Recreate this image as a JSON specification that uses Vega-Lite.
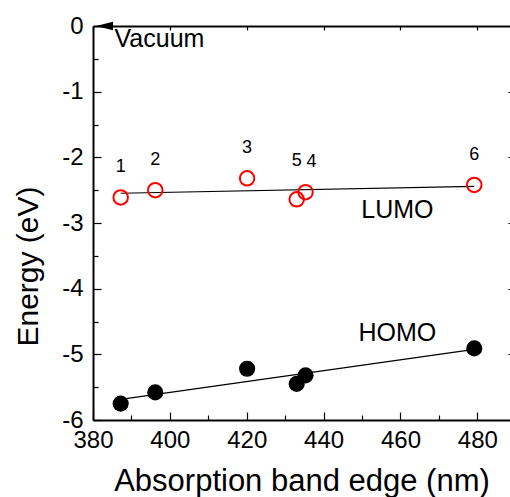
{
  "$schema": "https://vega.github.io/schema/vega-lite/v6.json",
  "autosize": "none",
  "width": 417,
  "height": 394,
  "padding": {"left": 93, "top": 26, "right": 0, "bottom": 77},
  "background": "white",
  "config": {
    "view": {"stroke": null},
    "font": "Liberation Sans",
    "axis": {"grid": false, "domainColor": "black", "tickColor": "black", "labelColor": "black", "titleColor": "black", "labelFont": "Liberation Sans", "titleFont": "Liberation Sans", "titleFontWeight": "normal", "labelFlush": false}
  },
  "datasets": {
    "pts": [
      {"n": "1", "wl": 387.2, "lumo": -2.61, "homo": -5.75},
      {"n": "2", "wl": 396.2, "lumo": -2.50, "homo": -5.58},
      {"n": "3", "wl": 420.1, "lumo": -2.32, "homo": -5.22},
      {"n": "5", "wl": 433.0, "lumo": -2.64, "homo": -5.45},
      {"n": "4", "wl": 435.3, "lumo": -2.53, "homo": -5.32},
      {"n": "6", "wl": 479.2, "lumo": -2.42, "homo": -4.91}
    ],
    "notes": [
      {"text": "Vacuum", "wl": 385.6, "E": -0.315, "align": "left"},
      {"text": "LUMO", "wl": 459.2, "E": -2.93, "align": "center"},
      {"text": "HOMO", "wl": 459.2, "E": -4.79, "align": "center"}
    ],
    "arrow": [{"wl": 383.0, "E": 0}]
  },
  "resolve": {"axis": {"x": "independent", "y": "independent"}},
  "layer": [
    {
      "data": {"name": "pts"},
      "transform": [
        {"fold": ["lumo", "homo"], "as": ["orb", "E"]},
        {"regression": "E", "on": "wl", "groupby": ["orb"]}
      ],
      "mark": {"type": "line", "color": "black", "strokeWidth": 1.2},
      "encoding": {
        "x": {"field": "wl", "type": "quantitative", "scale": {"domain": [380, 488.5], "nice": false, "zero": false},
          "axis": {"orient": "top", "values": [380, 400, 420, 440, 460, 480], "labels": false, "title": null, "tickSize": -4, "tickWidth": 1.2, "domainWidth": 2}},
        "y": {"field": "E", "type": "quantitative", "scale": {"domain": [-6, 0], "nice": false, "zero": false},
          "axis": {"orient": "right", "values": [-6, -5, -4, -3, -2, -1, 0], "labels": false, "title": null, "tickSize": -2, "tickWidth": 1.2, "domain": false}},
        "detail": {"field": "orb"}
      }
    },
    {
      "data": {"name": "pts"},
      "mark": {"type": "point", "shape": "circle", "filled": false, "color": "#ff0000", "strokeWidth": 2, "size": 210, "opacity": 1},
      "encoding": {
        "x": {"field": "wl", "type": "quantitative",
          "axis": {"orient": "bottom", "values": [380, 400, 420, 440, 460, 480], "labelExpr": "'' + datum.value", "title": "Absorption band edge (nm)", "tickSize": -8, "tickWidth": 1.2, "domainWidth": 2, "labelFontSize": 24, "labelPadding": 16, "titleFontSize": 31, "titleBaseline": "alphabetic", "titleY": 70}},
        "y": {"field": "lumo", "type": "quantitative",
          "axis": {"orient": "left", "values": [-6, -5, -4, -3, -2, -1, 0], "labelExpr": "'' + datum.value", "title": "Energy (eV)", "tickSize": -8, "tickWidth": 1.2, "domainWidth": 2, "labelFontSize": 24, "labelPadding": 18, "titleFontSize": 30, "titleBaseline": "alphabetic", "titleX": -56, "titleY": 240, "titleAngle": 270}}
      }
    },
    {
      "data": {"name": "pts"},
      "mark": {"type": "point", "shape": "circle", "filled": true, "color": "black", "size": 260, "opacity": 1},
      "encoding": {
        "x": {"field": "wl", "type": "quantitative",
          "axis": {"orient": "bottom", "values": [390, 410, 430, 450, 470], "labels": false, "title": null, "tickSize": -5, "tickWidth": 1.2, "domain": false}},
        "y": {"field": "homo", "type": "quantitative",
          "axis": {"orient": "left", "values": [-5.5, -4.5, -3.5, -2.5, -1.5, -0.5], "labels": false, "title": null, "tickSize": -5, "tickWidth": 1.2, "domain": false}}
      }
    },
    {
      "data": {"name": "pts"},
      "mark": {"type": "text", "fontSize": 18, "color": "black", "baseline": "middle", "dy": {"expr": "datum.n == '5' ? -38 : -30"}, "dx": {"expr": "datum.n == '4' ? 6 : 0"}},
      "encoding": {
        "x": {"field": "wl", "type": "quantitative", "axis": null},
        "y": {"field": "lumo", "type": "quantitative", "axis": null},
        "text": {"field": "n"}
      }
    },
    {
      "data": {"name": "notes"},
      "mark": {"type": "text", "fontSize": 25, "color": "black", "baseline": "alphabetic", "align": {"expr": "datum.align"}},
      "encoding": {
        "x": {"field": "wl", "type": "quantitative", "axis": null},
        "y": {"field": "E", "type": "quantitative", "axis": null},
        "text": {"field": "text"}
      }
    },
    {
      "data": {"name": "arrow"},
      "mark": {"type": "point", "shape": "M1,-0.5L-1,0L1,0.5Z", "filled": true, "color": "black", "size": 289, "opacity": 1},
      "encoding": {
        "x": {"field": "wl", "type": "quantitative", "axis": null},
        "y": {"field": "E", "type": "quantitative", "axis": null}
      }
    }
  ]
}
